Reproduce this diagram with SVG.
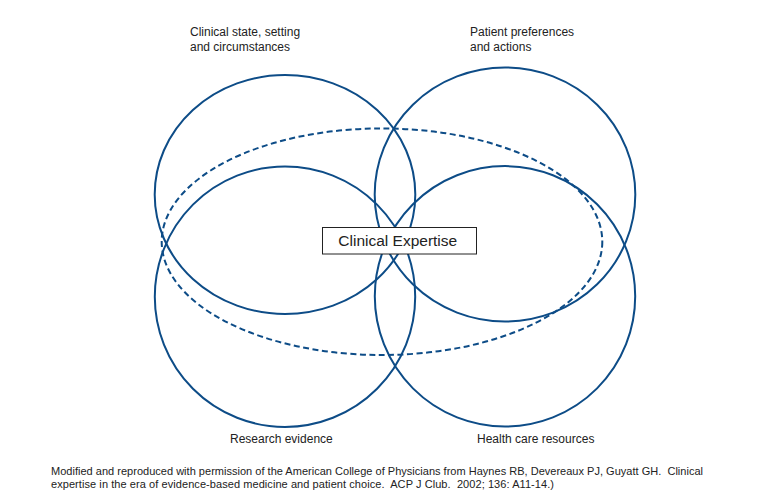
<svg xmlns="http://www.w3.org/2000/svg" width="780" height="504" viewBox="0 0 780 504">
<style>
.c{fill:none;stroke:#0d4c87;stroke-width:2}
.d{fill:none;stroke:#0d4c87;stroke-width:2;stroke-dasharray:6 3.5}
.t{font-family:"Liberation Sans",Arial,sans-serif;font-size:12px;fill:#222}
.f{font-family:"Liberation Sans",Arial,sans-serif;font-size:11px;fill:#222}
.b{font-family:"Liberation Sans",Arial,sans-serif;font-size:15.5px;fill:#222}
</style>
<rect width="780" height="504" fill="#fff"/>
<g id="connectors"></g>
<g id="clinical-state">
<ellipse class="c" cx="285" cy="194.5" rx="130.3" ry="119.5"/>
<text class="t" x="190" y="35.5">Clinical state, setting</text>
<text class="t" x="190" y="50.5">and circumstances</text>
</g>
<g id="patient-preferences">
<ellipse class="c" cx="505" cy="194.5" rx="130.3" ry="127"/>
<text class="t" x="470" y="35.5">Patient preferences</text>
<text class="t" x="470" y="50.5">and actions</text>
</g>
<g id="research-evidence">
<circle class="c" cx="285" cy="296.7" r="130.2"/>
<text class="t" x="230" y="442.5">Research evidence</text>
</g>
<g id="health-care-resources">
<circle class="c" cx="505" cy="296.3" r="130.2"/>
<text class="t" x="477" y="442.5">Health care resources</text>
</g>
<g id="clinical-expertise">
<ellipse class="d" cx="382" cy="241.7" rx="220.3" ry="113.3"/>
<rect x="322.5" y="227.5" width="154" height="26.5" fill="#fff" stroke="#222" stroke-width="1"/>
<text class="b" x="338.3" y="246">Clinical Expertise</text>
</g>
<g id="footnote">
<text class="f" x="51" y="475" xml:space="preserve" textLength="652" lengthAdjust="spacing">Modified and reproduced with permission of the American College of Physicians from Haynes RB, Devereaux PJ, Guyatt GH.  Clinical</text>
<text class="f" x="51" y="487.7" xml:space="preserve" textLength="503" lengthAdjust="spacing">expertise in the era of evidence-based medicine and patient choice.  ACP J Club.  2002; 136: A11-14.)</text>
</g>
</svg>
